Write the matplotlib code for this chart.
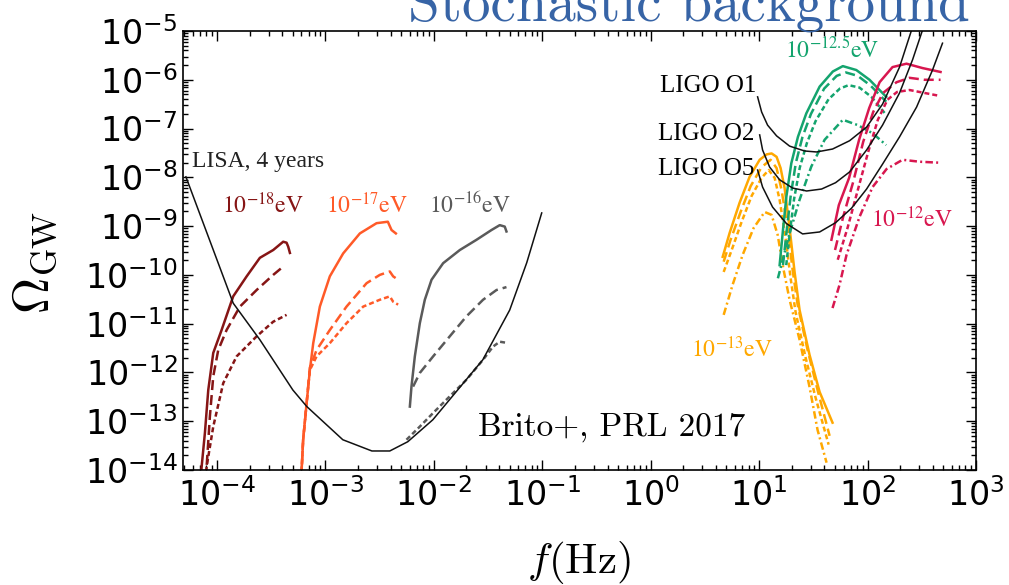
import numpy as np
import matplotlib
matplotlib.use("Agg")
import matplotlib.pyplot as plt
from matplotlib.ticker import FixedLocator, LogLocator, NullFormatter

# Values, stored as log10(f / Hz) and log10(Omega_GW)

# LISA, 4 years sensitivity
lisa_logf = [-4.286, -3.850, -3.604, -3.300, -3.171, -2.839, -2.571, -2.406, -2.240, -2.009, -1.548, -1.300, -1.143, -1.005]
lisa_logom = [-7.99, -10.58, -11.33, -12.36, -12.70, -13.38, -13.61, -13.61, -13.42, -12.97, -11.74, -10.72, -9.75, -8.73]

# LIGO O1 / O2 / O5 sensitivity
o1_logf = [0.986, 1.023, 1.078, 1.161, 1.281, 1.419, 1.530, 1.677, 1.834, 1.991, 2.138, 2.295, 2.406, 2.433]
o1_logom = [-6.35, -6.66, -6.93, -7.15, -7.36, -7.46, -7.48, -7.42, -7.25, -6.97, -6.50, -5.74, -4.98, -4.77]
o2_logf = [1.005, 1.032, 1.097, 1.189, 1.309, 1.438, 1.576, 1.705, 1.834, 1.991, 2.138, 2.295, 2.415, 2.507, 2.535]
o2_logom = [-7.13, -7.44, -7.79, -8.05, -8.22, -8.28, -8.24, -8.11, -7.89, -7.44, -6.93, -6.27, -5.59, -4.98, -4.77]
o5_logf = [0.986, 1.032, 1.124, 1.253, 1.401, 1.558, 1.705, 1.853, 1.991, 2.138, 2.295, 2.452, 2.599, 2.691]
o5_logom = [-7.85, -8.20, -8.61, -8.95, -9.16, -9.12, -8.93, -8.63, -8.24, -7.73, -7.17, -6.56, -5.80, -5.25]

# 1e-18 eV
m18_solid_logf = [-4.152, -4.141, -4.111, -4.080, -4.034, -3.957, -3.850, -3.726, -3.604, -3.481, -3.389, -3.358, -3.343, -3.327]
m18_solid_logom = [-14.2, -13.93, -13.24, -12.36, -11.60, -11.13, -10.44, -10.03, -9.65, -9.49, -9.32, -9.34, -9.42, -9.55]
m18_dash_logf = [-4.111, -4.095, -4.065, -4.034, -3.988, -3.911, -3.788, -3.634, -3.481, -3.389]
m18_dash_logom = [-14.2, -13.93, -12.90, -12.08, -11.54, -11.13, -10.65, -10.31, -10.00, -9.83]
m18_dot_logf = [-4.106, -4.095, -4.034, -3.942, -3.818, -3.634, -3.481, -3.358]
m18_dot_logom = [-14.2, -13.93, -13.11, -12.22, -11.67, -11.26, -10.96, -10.82]

# 1e-17 eV
m17_solid_logf = [-3.226, -3.219, -3.205, -3.173, -3.143, -3.112, -3.051, -2.959, -2.836, -2.682, -2.528, -2.424, -2.390, -2.350]
m17_solid_logom = [-14.2, -14.0, -13.38, -12.63, -11.95, -11.40, -10.65, -10.03, -9.56, -9.15, -8.94, -8.91, -9.08, -9.15]
m17_dash_logf = [-3.226, -3.219, -3.205, -3.173, -3.143, -3.081, -2.959, -2.805, -2.620, -2.498, -2.406, -2.375, -2.329]
m17_dash_logom = [-14.2, -14.0, -13.38, -12.63, -11.90, -11.54, -11.13, -10.65, -10.17, -10.00, -9.93, -10.03, -10.10]
m17_dot_logf = [-3.226, -3.219, -3.205, -3.173, -3.143, -3.081, -2.959, -2.805, -2.651, -2.498, -2.406, -2.375, -2.329]
m17_dot_logom = [-14.2, -14.0, -13.38, -12.63, -11.95, -11.67, -11.40, -10.99, -10.65, -10.51, -10.44, -10.55, -10.61]

# 1e-16 eV
m16_solid_logf = [-2.221, -2.206, -2.175, -2.129, -2.083, -2.021, -1.914, -1.760, -1.606, -1.468, -1.392, -1.346, -1.330]
m16_solid_logom = [-12.70, -12.29, -11.67, -10.99, -10.51, -10.10, -9.76, -9.49, -9.28, -9.08, -8.98, -9.01, -9.11]
m16_dash_logf = [-2.191, -2.129, -2.006, -1.853, -1.699, -1.546, -1.422, -1.330]
m16_dash_logom = [-12.29, -12.01, -11.67, -11.26, -10.85, -10.51, -10.31, -10.25]
m16_dot_logf = [-2.252, -2.129, -2.006, -1.853, -1.699, -1.546, -1.454, -1.392, -1.336]
m16_dot_logom = [-13.38, -13.11, -12.83, -12.49, -12.15, -11.74, -11.47, -11.37, -11.39]

# 1e-13 eV
m13_solid_logf = [0.664, 0.728, 0.820, 0.912, 1.005, 1.069, 1.115, 1.161, 1.198, 1.235, 1.281, 1.327, 1.373, 1.465, 1.558, 1.677]
m13_solid_logom = [-9.63, -9.14, -8.52, -7.99, -7.64, -7.53, -7.51, -7.58, -7.81, -8.22, -9.04, -9.94, -10.72, -11.64, -12.40, -13.03]
m13_dash_logf = [0.673, 0.737, 0.829, 0.922, 1.023, 1.106, 1.161, 1.207, 1.263, 1.309, 1.355, 1.447, 1.539, 1.650]
m13_dash_logom = [-9.73, -9.28, -8.71, -8.18, -7.79, -7.64, -7.81, -8.26, -9.04, -9.90, -10.61, -11.54, -12.36, -13.30]
m13_dot_logf = [0.673, 0.747, 0.839, 0.931, 1.023, 1.088, 1.143, 1.189, 1.244, 1.290, 1.336, 1.429, 1.521, 1.641]
m13_dot_logom = [-9.94, -9.49, -8.91, -8.38, -8.01, -7.85, -8.01, -8.46, -9.24, -10.06, -10.76, -11.70, -12.52, -13.48]
m13_dd_logf = [0.673, 0.756, 0.848, 0.949, 1.051, 1.115, 1.171, 1.226, 1.281, 1.373, 1.465, 1.539, 1.622]
m13_dd_logom = [-10.82, -10.20, -9.59, -9.04, -8.71, -8.77, -9.18, -9.90, -10.51, -11.33, -12.30, -13.18, -13.85]

# 1e-12.5 eV
m125_solid_logf = [1.189, 1.220, 1.251, 1.297, 1.358, 1.435, 1.558, 1.680, 1.772, 1.896, 2.018, 2.172]
m125_solid_logom = [-9.80, -9.08, -8.40, -7.71, -7.17, -6.69, -6.14, -5.83, -5.72, -5.80, -6.00, -6.35]
m125_dash_logf = [1.220, 1.255, 1.290, 1.338, 1.400, 1.478, 1.600, 1.715, 1.800, 1.910, 2.028, 2.172]
m125_dash_logom = [-9.80, -9.08, -8.40, -7.71, -7.17, -6.70, -6.18, -5.92, -5.85, -5.92, -6.12, -6.45]
m125_dot_logf = [1.250, 1.285, 1.322, 1.375, 1.440, 1.520, 1.640, 1.745, 1.825, 1.925, 2.035, 2.172]
m125_dot_logom = [-9.80, -9.10, -8.45, -7.80, -7.30, -6.85, -6.40, -6.18, -6.11, -6.16, -6.35, -6.72]
m125_dd_logf = [1.173, 1.281, 1.373, 1.481, 1.604, 1.772, 1.911, 2.049, 2.172]
m125_dd_logom = [-10.07, -9.15, -8.46, -7.78, -7.23, -6.82, -6.93, -7.10, -7.34]

# 1e-12 eV
m12_solid_logf = [1.667, 1.735, 1.830, 1.922, 2.015, 2.111, 2.230, 2.359, 2.507, 2.673]
m12_solid_logom = [-9.28, -8.57, -8.01, -7.23, -6.58, -6.05, -5.74, -5.67, -5.76, -5.84]
m12_dash_logf = [1.700, 1.775, 1.868, 1.960, 2.052, 2.143, 2.267, 2.387, 2.525, 2.673]
m12_dash_logom = [-9.49, -8.81, -8.09, -7.27, -6.66, -6.27, -6.05, -5.96, -6.00, -6.00]
m12_dot_logf = [1.725, 1.815, 1.910, 2.003, 2.095, 2.183, 2.272, 2.387, 2.525, 2.664]
m12_dot_logom = [-9.69, -9.04, -8.26, -7.50, -6.82, -6.41, -6.25, -6.21, -6.27, -6.33]
m12_dd_logf = [1.677, 1.742, 1.806, 1.926, 2.046, 2.175, 2.323, 2.479, 2.664]
m12_dd_logom = [-10.68, -10.20, -9.59, -8.81, -8.20, -7.83, -7.64, -7.68, -7.70]

# tick positions (decades)
x_major = [1e-4, 1e-3, 1e-2, 1e-1, 1e0, 1e1, 1e2, 1e3]
y_major = [1e-14, 1e-13, 1e-12, 1e-11, 1e-10, 1e-9, 1e-8, 1e-7, 1e-6, 1e-5]

# line styles
SOLID = '-'
DASH = (0, (4, 2))
DOT = (0, (2, 1.2))
DASHDOT = (0, (3, 1.3, 0.8, 1.3))

C18 = '#861515'
C17 = '#ff5a28'
C16 = '#5a5a5a'
C13 = '#ffa800'
C125 = '#14a46e'
C12 = '#d8174f'


def draw(ax, lf, lo, color, ls, lw=1.8):
    ax.plot(10 ** np.array(lf), 10 ** np.array(lo), color=color, ls=ls, lw=lw)


fig = plt.figure(figsize=(10.09, 5.85), dpi=100)
ax = fig.add_axes([183 / 1009, 115 / 585, 793 / 1009, 439 / 585])
ax.set_xscale('log')
ax.set_yscale('log')

draw(ax, m18_solid_logf, m18_solid_logom, C18, SOLID)
draw(ax, m18_dash_logf, m18_dash_logom, C18, DASH)
draw(ax, m18_dot_logf, m18_dot_logom, C18, DOT)
draw(ax, m17_solid_logf, m17_solid_logom, C17, SOLID)
draw(ax, m17_dash_logf, m17_dash_logom, C17, DASH)
draw(ax, m17_dot_logf, m17_dot_logom, C17, DOT)
draw(ax, m16_solid_logf, m16_solid_logom, C16, SOLID)
draw(ax, m16_dash_logf, m16_dash_logom, C16, DASH)
draw(ax, m16_dot_logf, m16_dot_logom, C16, DOT)
draw(ax, m13_solid_logf, m13_solid_logom, C13, SOLID)
draw(ax, m13_dash_logf, m13_dash_logom, C13, DASH)
draw(ax, m13_dot_logf, m13_dot_logom, C13, DOT)
draw(ax, m13_dd_logf, m13_dd_logom, C13, DASHDOT)
draw(ax, m125_solid_logf, m125_solid_logom, C125, SOLID)
draw(ax, m125_dash_logf, m125_dash_logom, C125, DASH)
draw(ax, m125_dot_logf, m125_dot_logom, C125, DOT)
draw(ax, m125_dd_logf, m125_dd_logom, C125, DASHDOT)
draw(ax, m12_solid_logf, m12_solid_logom, C12, SOLID)
draw(ax, m12_dash_logf, m12_dash_logom, C12, DASH)
draw(ax, m12_dot_logf, m12_dot_logom, C12, DOT)
draw(ax, m12_dd_logf, m12_dd_logom, C12, DASHDOT)

# sensitivity curves
draw(ax, lisa_logf, lisa_logom, '#111111', SOLID, lw=1.1)
draw(ax, o1_logf, o1_logom, '#111111', SOLID, lw=1.1)
draw(ax, o2_logf, o2_logom, '#111111', SOLID, lw=1.1)
draw(ax, o5_logf, o5_logom, '#111111', SOLID, lw=1.1)

ax.set_xlim(10 ** -4.313, 1e3)
ax.set_ylim(1e-14, 1e-5)

ax.xaxis.set_major_locator(FixedLocator(x_major))
ax.yaxis.set_major_locator(FixedLocator(y_major))
for axis in (ax.xaxis, ax.yaxis):
    axis.set_minor_locator(LogLocator(base=10, subs=np.arange(2, 10), numticks=20))
    axis.set_minor_formatter(NullFormatter())
ax.tick_params(which='both', direction='in', top=True, right=True, width=1)
ax.tick_params(which='major', length=7, labelsize=24)
ax.tick_params(which='minor', length=3.5)
ax.tick_params(axis='y', pad=4)
ax.tick_params(axis='x', pad=6)
for sp in ax.spines.values():
    sp.set_linewidth(1.2)

# labels on the curves
serif = 'Liberation Serif'
ax.text(5.9e-5, 2.1e-8, 'LISA, 4 years', family=serif, fontsize=17, color='#222222', ha='left', va='center')
ax.text(9.5, 7.4e-7, 'LIGO O1', family=serif, fontsize=18, ha='right', va='center')
ax.text(9.1, 7.8e-8, 'LIGO O2', family=serif, fontsize=18, ha='right', va='center')
ax.text(9.1, 1.48e-8, 'LIGO O5', family=serif, fontsize=18, ha='right', va='center')

eV_kw = dict(fontsize=17, math_fontfamily='stix', ha='center', va='center')
ax.text(2.65e-4, 2.7e-9, r'$10^{-18}\mathrm{eV}$', color=C18, **eV_kw)
ax.text(2.41e-3, 2.7e-9, r'$10^{-17}\mathrm{eV}$', color=C17, **eV_kw)
ax.text(2.15e-2, 2.7e-9, r'$10^{-16}\mathrm{eV}$', color=C16, **eV_kw)
ax.text(47.5, 4.07e-6, r'$10^{-12.5}\mathrm{eV}$', color=C125, **eV_kw)
ax.text(255, 1.35e-9, r'$10^{-12}\mathrm{eV}$', color=C12, **eV_kw)
ax.text(5.58, 3.0e-12, r'$10^{-13}\mathrm{eV}$', color=C13, **eV_kw)

ax.text(0.541, 0.098, 'Brito+, PRL 2017', family='cmr10', fontsize=24,
        transform=ax.transAxes, ha='center', va='center')

fig.text(35 / 1009, 1 - 262 / 585, r'$\Omega_{\rm GW}$', rotation=90, fontsize=36,
         math_fontfamily='cm', ha='center', va='center')
fig.text(579 / 1009, 1 - 562 / 585, r'$f(\mathrm{Hz})$', fontsize=31,
         math_fontfamily='cm', ha='center', va='center')
fig.text(408 / 1009, 1 - 21 / 585, 'Stochastic background', family='cmr10', fontsize=41,
         color='#3764a6', ha='left', va='baseline')

fig.savefig('out.png', dpi=100)
